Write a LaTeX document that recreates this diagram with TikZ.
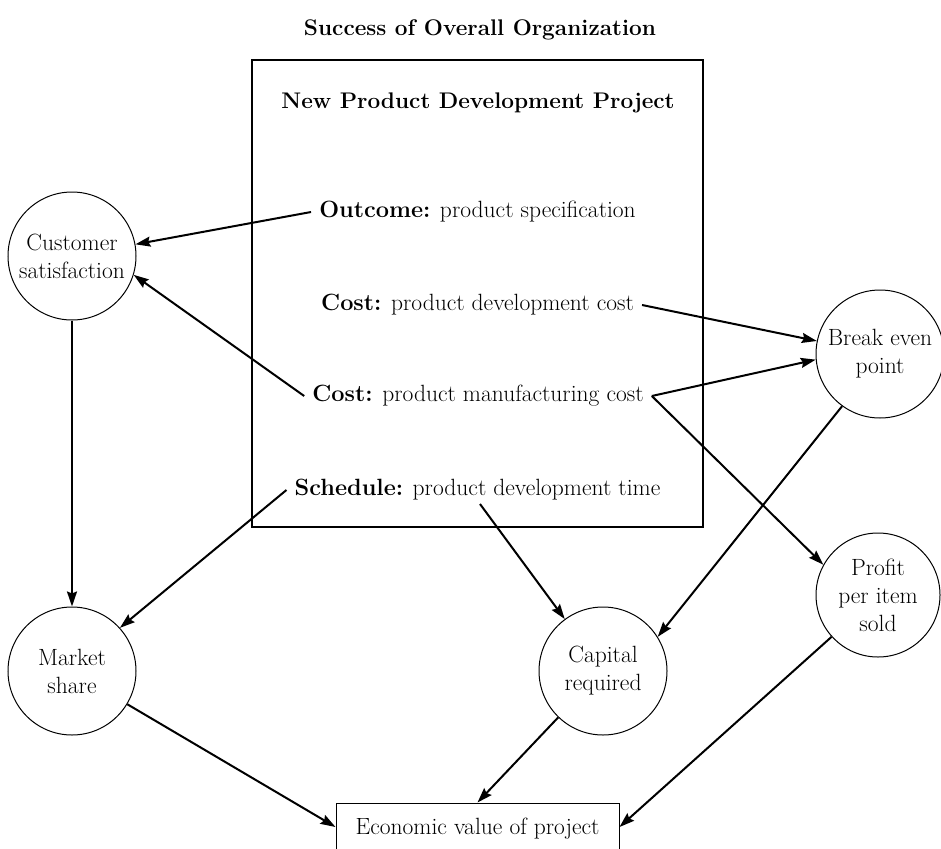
\documentclass[tikz,border=0pt]{standalone}
\usepackage{fontspec}
\usetikzlibrary{arrows.meta}
\begin{document}
\begin{tikzpicture}[x=1pt,y=-1pt,
  every node/.style={font=\fontsize{23.5}{28}\selectfont, text=black},
  heading/.style={font=\fontsize{22.6}{28}\selectfont\bfseries},
  factor/.style={draw, circle, line width=1pt, minimum size=128pt, inner sep=0pt, align=center},
  item/.style={inner xsep=8pt, inner ysep=2pt},
  frame/.style={draw, line width=1.2pt, inner sep=0pt},
  link/.style={line width=2pt, -{Stealth[length=15pt,width=10pt,inset=2pt]}}]
\useasboundingbox (0,0) rectangle (941,848);

% headings
\node[heading] (title) at (480,30) {Success of Overall Organization};
\node[frame, minimum width=451pt, minimum height=467pt] (proj) at (477.5,293.5) {};
\node[heading] (projtitle) at (478,103) {New Product Development Project};

% project measures
\node[item] (outc) at (477.5,212) {\textbf{Outcome:} product specification};
\node[item] (cdev) at (477.5,305) {\textbf{Cost:} product development cost};
\node[item] (cman) at (478,396) {\textbf{Cost:} product manufacturing cost};
\node[item] (sched) at (477.5,490) {\textbf{Schedule:} product development time};
\coordinate (schedlow) at (480,504);

% organisational factors
\node[factor] (cs) at (72,256) {Customer\\satisfaction};
\node[factor] (ms) at (72,671) {Market\\share};
\node[factor] (be) at (880,354) {Break even\\point};
\node[factor] (cap) at (603,671) {Capital\\required};
\node[factor, minimum size=124pt] (pr) at (878,595) {Profit\\per item\\sold};
\node[frame, line width=1pt, minimum width=283pt, minimum height=48pt, text depth=2pt] (econ) at (477.5,827) {Economic value of project};

% influences
\draw[link] (outc.west) -- (cs);
\draw[link] (cman.west) -- (cs.-17);
\draw[link] (cs.south) -- (ms.north);
\draw[link] (sched.west) -- (ms.42);
\draw[link] (cdev.east) -- (be);
\draw[link] (cman.east) -- (be.185);
\draw[link] (cman.east) -- (pr.151);
\draw[link] (schedlow) -- (cap);
\draw[link] (be.234) -- (cap.32);
\draw[link] (ms.-31) -- (econ.west);
\draw[link] (cap.226) -- (econ.north);
\draw[link] (pr.222) -- (econ.east);
\end{tikzpicture}
\end{document}
